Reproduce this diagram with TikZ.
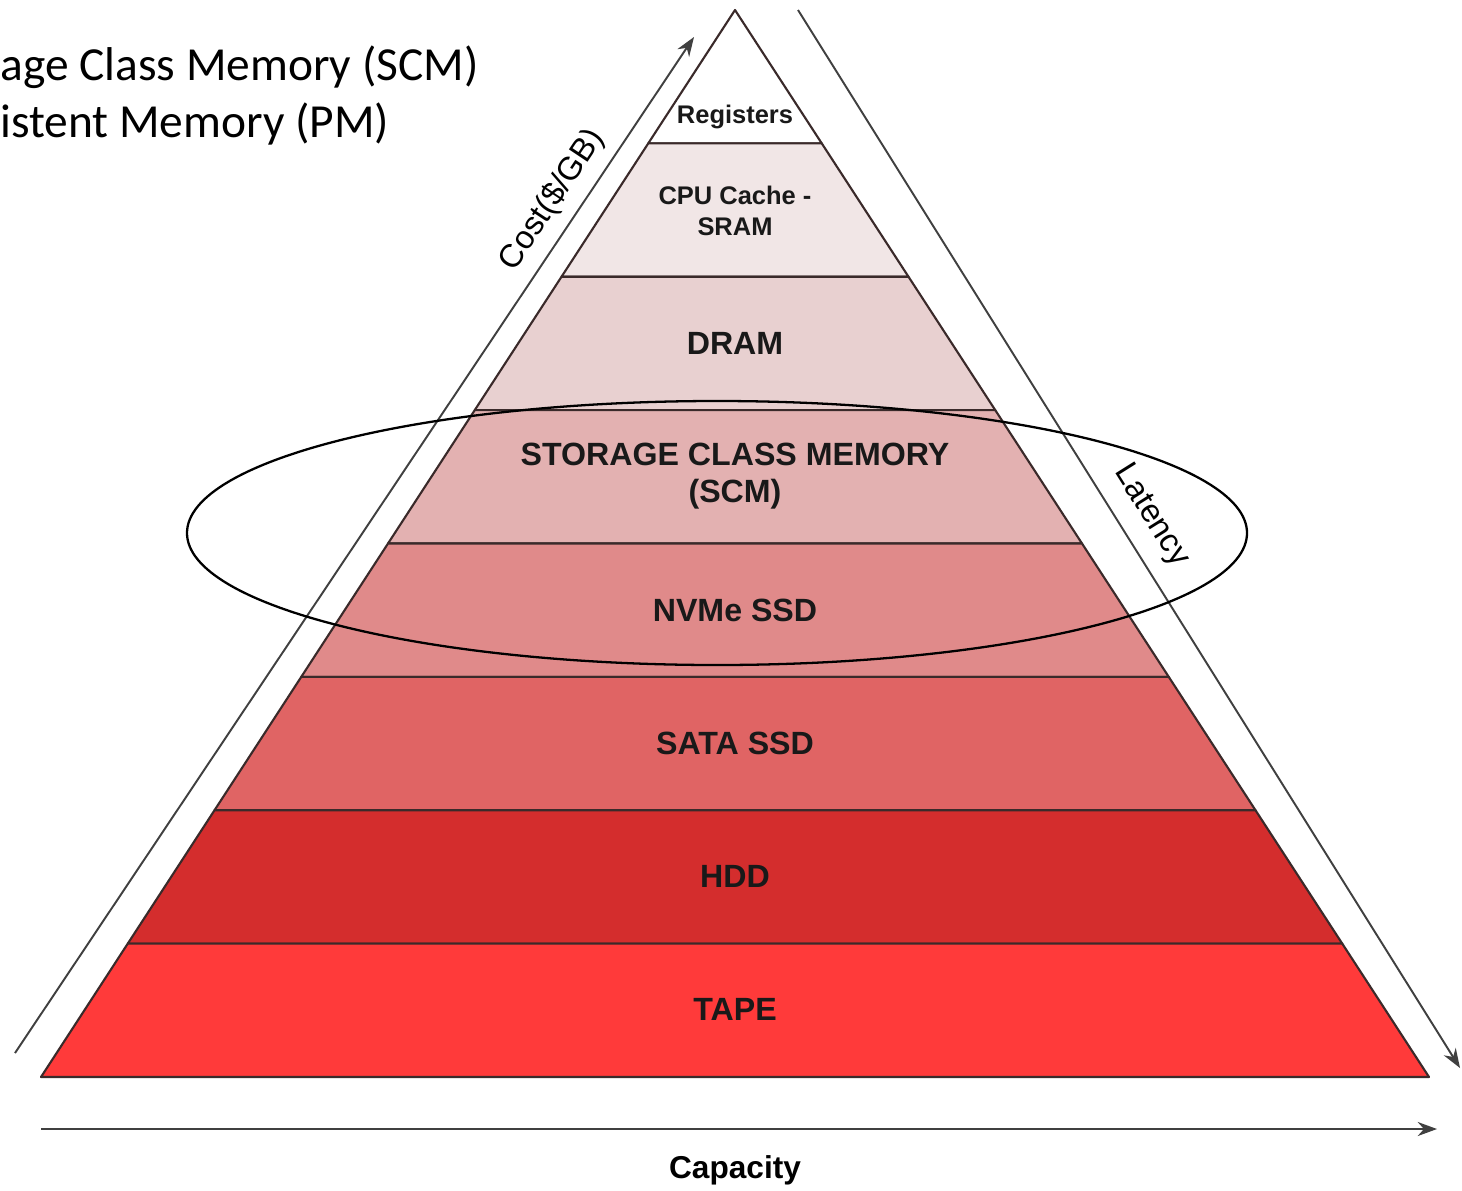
\documentclass[tikz,border=0pt]{standalone}
\usepackage{fontspec}
\setmainfont{Liberation Sans}
\newfontfamily\calibrifont{Carlito}
\usetikzlibrary{arrows.meta}

\definecolor{regcol}{HTML}{FFFFFF}
\definecolor{cachecol}{HTML}{F1E6E6}
\definecolor{dramcol}{HTML}{E8D0D0}
\definecolor{scmcol}{HTML}{E3B1B1}
\definecolor{nvmecol}{HTML}{E08A8A}
\definecolor{satacol}{HTML}{E06464}
\definecolor{hddcol}{HTML}{D42D2D}
\definecolor{tapecol}{HTML}{FF3A3A}
\definecolor{edgecol}{HTML}{3A2A2A}

\begin{document}
\begin{tikzpicture}[
    x=0.02cm, y=-0.02cm,
    layer/.style={draw=edgecol, line width=1.2pt, line join=round},
    tier/.style={font=\fontsize{18.3}{21.5}\selectfont\bfseries, text=black!90, align=center, inner sep=0pt},
    smalltier/.style={tier, font=\fontsize{14.5}{18}\selectfont\bfseries},
    axis/.style={draw=black!75, line width=1.1pt, -{Stealth[length=11pt,width=8pt]}},
    axislabel/.style={font=\fontsize{18.5}{21}\selectfont, inner sep=0pt},
    note/.style={font=\calibrifont\fontsize{27}{32}\selectfont, anchor=base west, inner sep=0pt}
  ]
  \useasboundingbox (0,0) rectangle (1462,1190);

  % pyramid layers, top to bottom
  \foreach \i/\col in {1/regcol, 2/cachecol, 3/dramcol, 4/scmcol, 5/nvmecol, 6/satacol, 7/hddcol, 8/tapecol} {
    \pgfmathsetmacro\yt{10+(\i-1)*133.375}
    \pgfmathsetmacro\yb{10+\i*133.375}
    \pgfmathsetmacro\wt{0.650422*(\yt-10)}
    \pgfmathsetmacro\wb{0.650422*(\yb-10)}
    \filldraw[layer, fill=\col] ({735-\wt},\yt) -- ({735+\wt},\yt) -- ({735+\wb},\yb) -- ({735-\wb},\yb) -- cycle;
  }

  \node[smalltier] (reg) at (735,117) {Registers};
  \node[smalltier] (cache) at (735,211) {CPU Cache -\\SRAM};
  \node[tier] (dram) at (735,343) {DRAM};
  \node[tier] (scm) at (735,476) {STORAGE CLASS MEMORY\\(SCM)};
  \node[tier] (nvme) at (735,610) {NVMe SSD};
  \node[tier] (sata) at (735,743) {SATA SSD};
  \node[tier] (hdd) at (735,876) {HDD};
  \node[tier] (tape) at (735,1009) {TAPE};

  % axes
  \coordinate (coststart) at (15,1053);
  \coordinate (costend) at (694,37);
  \coordinate (latstart) at (798,10);
  \coordinate (latend) at (1460,1068);
  \coordinate (capstart) at (41,1129);
  \coordinate (capend) at (1437,1129);

  \draw[axis] (coststart) -- (costend);
  \draw[axis] (latstart) -- (latend);
  \draw[axis] (capstart) -- (capend);

  \node[axislabel, rotate=56.3] (cost) at (552,200) {Cost(\$/GB)};
  \node[axislabel, rotate=-57.9] (latency) at (1151,516) {Latency};
  \node[axislabel, font=\fontsize{18}{21}\selectfont\bfseries] (capacity) at (735,1170) {Capacity};

  % highlight of SCM / NVMe
  \draw[line width=1.3pt] (717,533) ellipse [x radius=530, y radius=132];

  \node[note] (scmnote) at (0,80) {age Class Memory (SCM)};
  \node[note] (pmnote) at (0,137) {istent Memory (PM)};

\end{tikzpicture}
\end{document}
